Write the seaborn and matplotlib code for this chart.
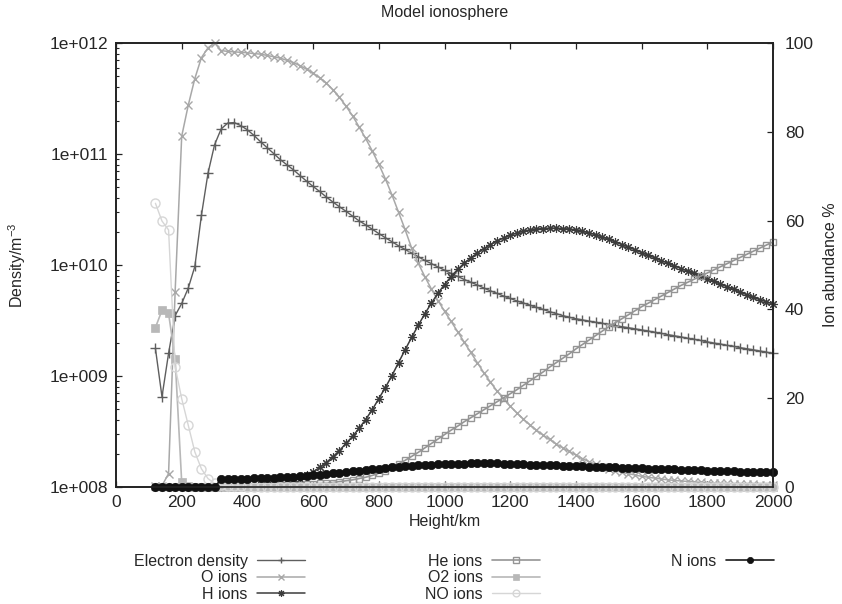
import matplotlib
matplotlib.use("Agg")
import matplotlib.pyplot as plt
import numpy as np
import pandas as pd
import seaborn as sns
from matplotlib.ticker import FixedLocator, FixedFormatter, LogLocator, NullFormatter

# ---------------- data ----------------
heights = [
    120, 140, 160, 180, 200, 220, 240, 260, 280, 300,
    320, 340, 360, 380, 400, 420, 440, 460, 480, 500,
    520, 540, 560, 580, 600, 620, 640, 660, 680, 700,
    720, 740, 760, 780, 800, 820, 840, 860, 880, 900,
    920, 940, 960, 980, 1000, 1020, 1040, 1060, 1080, 1100,
    1120, 1140, 1160, 1180, 1200, 1220, 1240, 1260, 1280, 1300,
    1320, 1340, 1360, 1380, 1400, 1420, 1440, 1460, 1480, 1500,
    1520, 1540, 1560, 1580, 1600, 1620, 1640, 1660, 1680, 1700,
    1720, 1740, 1760, 1780, 1800, 1820, 1840, 1860, 1880, 1900,
    1920, 1940, 1960, 1980, 2000,
]

electron_density = [
    1.77e9, 6.5e8, 1.6e9, 3.5e9, 4.5e9, 6.2e9, 9.7e9, 2.8e10, 6.7e10, 1.21e11,
    1.68e11, 1.90e11, 1.92e11, 1.80e11, 1.65e11, 1.47e11, 1.29e11, 1.14e11, 1.01e11, 8.9e10,
    8.0e10, 7.2e10, 6.4e10, 5.7e10, 5.1e10, 4.6e10, 4.1e10, 3.7e10, 3.35e10, 3.05e10,
    2.76e10, 2.5e10, 2.3e10, 2.1e10, 1.92e10, 1.76e10, 1.62e10, 1.49e10, 1.38e10, 1.28e10,
    1.19e10, 1.1e10, 1.03e10, 9.6e9, 9.0e9, 8.4e9, 7.9e9, 7.4e9, 7.0e9, 6.6e9,
    6.2e9, 5.85e9, 5.55e9, 5.25e9, 5.0e9, 4.75e9, 4.55e9, 4.35e9, 4.15e9, 3.98e9,
    3.8e9, 3.65e9, 3.5e9, 3.38e9, 3.28e9, 3.2e9, 3.12e9, 3.05e9, 2.98e9, 2.92e9,
    2.85e9, 2.78e9, 2.72e9, 2.66e9, 2.6e9, 2.54e9, 2.48e9, 2.42e9, 2.36e9, 2.3e9,
    2.25e9, 2.19e9, 2.14e9, 2.09e9, 2.03e9, 1.98e9, 1.94e9, 1.89e9, 1.85e9, 1.8e9,
    1.76e9, 1.72e9, 1.68e9, 1.64e9, 1.6e9,
]

o_ions = [
    0.2, 0.3, 3.0, 44.0, 79.0, 86.0, 92.0, 96.7, 98.9, 100.0,
    98.3, 98.1, 98.0, 97.9, 97.8, 97.6, 97.5, 97.2, 96.9, 96.6,
    96.1, 95.6, 94.9, 94.1, 93.2, 92.2, 91.0, 89.5, 87.8, 85.8,
    83.6, 81.1, 78.5, 75.7, 72.7, 69.4, 65.8, 61.9, 58.0, 53.8,
    50.4, 47.4, 44.6, 42.0, 39.6, 37.3, 35.0, 32.6, 30.3, 28.0,
    25.7, 23.6, 21.6, 19.9, 18.2, 16.7, 15.3, 14.0, 12.8, 11.7,
    10.7, 9.7, 8.8, 8.0, 7.2, 6.4, 5.7, 5.1, 4.6, 4.1,
    3.7, 3.3, 3.0, 2.7, 2.4, 2.2, 2.0, 1.8, 1.6, 1.5,
    1.35, 1.25, 1.15, 1.05, 0.95, 0.9, 0.85, 0.8, 0.75, 0.7,
    0.65, 0.6, 0.55, 0.5, 0.5,
]

h_ions = [
    0.0, 0.0, 0.0, 0.0, 0.0, 0.0, 0.0, 0.0, 0.0, 0.0,
    0.1, 0.1, 0.1, 0.2, 0.2, 0.3, 0.4, 0.5, 0.6, 0.8,
    1.1, 1.4, 1.9, 2.6, 3.4, 4.4, 5.5, 6.8, 8.2, 9.8,
    11.4, 13.2, 15.2, 17.4, 19.9, 22.4, 25.1, 28.0, 30.9, 33.7,
    36.4, 39.0, 41.4, 43.6, 45.6, 47.4, 49.0, 50.4, 51.6, 52.7,
    53.7, 54.6, 55.4, 56.1, 56.7, 57.2, 57.6, 57.9, 58.1, 58.2,
    58.3, 58.3, 58.2, 58.1, 57.9, 57.6, 57.2, 56.8, 56.3, 55.8,
    55.2, 54.6, 54.0, 53.4, 52.8, 52.2, 51.6, 51.0, 50.4, 49.8,
    49.2, 48.6, 48.1, 47.5, 46.9, 46.3, 45.7, 45.1, 44.5, 43.9,
    43.3, 42.7, 42.2, 41.7, 41.2,
]

he_ions = [
    0.0, 0.0, 0.0, 0.0, 0.0, 0.0, 0.0, 0.0, 0.0, 0.1,
    0.1, 0.1, 0.1, 0.1, 0.2, 0.2, 0.2, 0.3, 0.3, 0.4,
    0.4, 0.5, 0.5, 0.6, 0.7, 0.8, 0.9, 1.0, 1.2, 1.4,
    1.6, 1.9, 2.2, 2.6, 3.1, 3.7, 4.4, 5.2, 6.0, 6.9,
    7.8, 8.8, 9.8, 10.8, 11.8, 12.8, 13.7, 14.7, 15.6, 16.5,
    17.4, 18.3, 19.2, 20.1, 21.0, 21.9, 22.9, 23.9, 24.9, 25.9,
    27.0, 28.0, 29.0, 30.0, 31.1, 32.1, 33.1, 34.1, 35.1, 36.1,
    37.0, 37.9, 38.8, 39.7, 40.6, 41.4, 42.2, 43.0, 43.8, 44.6,
    45.4, 46.1, 46.8, 47.5, 48.2, 48.9, 49.6, 50.3, 51.0, 51.7,
    52.4, 53.1, 53.8, 54.5, 55.2,
]

o2_ions = [
    35.9, 39.8, 39.1, 28.9, 1.1, 0.2, 0.1, 0.1, 0.1, 0.1,
    0.0, 0.0, 0.0, 0.0, 0.0, 0.0, 0.0, 0.0, 0.0, 0.0,
    0.0, 0.0, 0.0, 0.0, 0.0, 0.0, 0.0, 0.0, 0.0, 0.0,
    0.0, 0.0, 0.0, 0.0, 0.0, 0.0, 0.0, 0.0, 0.0, 0.0,
    0.0, 0.0, 0.0, 0.0, 0.0, 0.0, 0.0, 0.0, 0.0, 0.0,
    0.0, 0.0, 0.0, 0.0, 0.0, 0.0, 0.0, 0.0, 0.0, 0.0,
    0.0, 0.0, 0.0, 0.0, 0.0, 0.0, 0.0, 0.0, 0.0, 0.0,
    0.0, 0.0, 0.0, 0.0, 0.0, 0.0, 0.0, 0.0, 0.0, 0.0,
    0.0, 0.0, 0.0, 0.0, 0.0, 0.0, 0.0, 0.0, 0.0, 0.0,
    0.0, 0.0, 0.0, 0.0, 0.0,
]

no_ions = [
    63.9, 59.9, 57.9, 27.1, 19.9, 13.9, 7.9, 4.1, 1.9, 0.8,
    0.4, 0.3, 0.2, 0.2, 0.1, 0.1, 0.1, 0.1, 0.1, 0.1,
    0.0, 0.0, 0.0, 0.0, 0.0, 0.0, 0.0, 0.0, 0.0, 0.0,
    0.0, 0.0, 0.0, 0.0, 0.0, 0.0, 0.0, 0.0, 0.0, 0.0,
    0.0, 0.0, 0.0, 0.0, 0.0, 0.0, 0.0, 0.0, 0.0, 0.0,
    0.0, 0.0, 0.0, 0.0, 0.0, 0.0, 0.0, 0.0, 0.0, 0.0,
    0.0, 0.0, 0.0, 0.0, 0.0, 0.0, 0.0, 0.0, 0.0, 0.0,
    0.0, 0.0, 0.0, 0.0, 0.0, 0.0, 0.0, 0.0, 0.0, 0.0,
    0.0, 0.0, 0.0, 0.0, 0.0, 0.0, 0.0, 0.0, 0.0, 0.0,
    0.0, 0.0, 0.0, 0.0, 0.0,
]

n_ions = [
    0.0, 0.0, 0.0, 0.0, 0.0, 0.0, 0.0, 0.0, 0.0, 0.0,
    1.7, 1.75, 1.8, 1.85, 1.9, 1.95, 2.0, 2.05, 2.1, 2.15,
    2.2, 2.3, 2.4, 2.5, 2.65, 2.8, 2.95, 3.1, 3.25, 3.4,
    3.55, 3.7, 3.85, 4.0, 4.15, 4.3, 4.45, 4.6, 4.7, 4.8,
    4.9, 5.0, 5.05, 5.1, 5.15, 5.2, 5.25, 5.25, 5.3, 5.3,
    5.3, 5.3, 5.3, 5.25, 5.2, 5.15, 5.1, 5.05, 5.0, 4.95,
    4.9, 4.85, 4.8, 4.75, 4.7, 4.65, 4.6, 4.55, 4.5, 4.45,
    4.4, 4.35, 4.3, 4.25, 4.2, 4.15, 4.1, 4.05, 4.0, 3.95,
    3.9, 3.85, 3.8, 3.75, 3.7, 3.65, 3.6, 3.55, 3.5, 3.48,
    3.46, 3.44, 3.42, 3.4, 3.4,
]

series_names = ["Electron density", "O ions", "H ions", "He ions",
                "O2 ions", "NO ions", "N ions"]
legend_columns = [[0, 1, 2], [3, 4, 5], [6]]
title_text = "Model ionosphere"
x_label = "Height/km"
left_label = "Density/m$^{-3}$"
right_label = "Ion abundance %"
x_ticks = [0, 200, 400, 600, 800, 1000, 1200, 1400, 1600, 1800, 2000]
left_ticks = [1e8, 1e9, 1e10, 1e11, 1e12]
left_ticklabels = ["1e+008", "1e+009", "1e+010", "1e+011", "1e+012"]
right_ticks = [0, 20, 40, 60, 80, 100]

# ---------------- style ----------------
sns.set_style("white")
plt.rcParams["font.family"] = ["Liberation Sans", "DejaVu Sans"]
plt.rcParams["mathtext.default"] = "regular"
TICK_FS = 12.5
LAB_FS = 11.5

df = pd.DataFrame({
    "height": heights,
    "electron": electron_density,
    "o": o_ions, "h": h_ions, "he": he_ions,
    "o2": o2_ions, "no": no_ions, "n": n_ions,
})

W, H = 842, 604
fig = plt.figure(figsize=(W / 100, H / 100), dpi=100)
L, R, T, B = 116, 773, 43, 487
ax = fig.add_axes([L / W, 1 - B / H, (R - L) / W, (B - T) / H])
ax2 = ax.twinx()

styles = [
    ("electron", ax, dict(color="#5e5e5e", marker="+", markersize=6.5,
                         markeredgecolor="#5e5e5e", markeredgewidth=1.0, linewidth=1.0)),
    ("o", ax2, dict(color="#a8a8a8", marker="x", markersize=5.5,
                    markeredgecolor="#a8a8a8", markeredgewidth=1.0, linewidth=1.1)),
    ("h", ax2, dict(color="#3c3c3c", marker=(8, 2, 0), markersize=6.5,
                    markeredgecolor="#3c3c3c", markeredgewidth=0.8, linewidth=1.1)),
    ("he", ax2, dict(color="#959595", marker="s", markersize=5,
                     markerfacecolor="none", markeredgecolor="#959595",
                     markeredgewidth=1.0, linewidth=1.2)),
    ("o2", ax2, dict(color="#b8b8b8", marker="s", markersize=5.5,
                     markerfacecolor="#b8b8b8", markeredgecolor="#b8b8b8",
                     markeredgewidth=0.5, linewidth=1.2)),
    ("no", ax2, dict(color="#d6d6d6", marker="o", markersize=6.5,
                     markerfacecolor="none", markeredgecolor="#d6d6d6",
                     markeredgewidth=1.0, linewidth=1.0)),
    ("n", ax2, dict(color="#1a1a1a", marker="o", markersize=6,
                    markerfacecolor="#111111", markeredgecolor="#111111",
                    markeredgewidth=0.5, linewidth=1.2)),
]

handles = []
for (col, axis, kw), name in zip(styles, series_names):
    sns.lineplot(data=df, x="height", y=col, ax=axis, legend=False,
                 label=name, clip_on=False, **kw)
    handles.append(axis.lines[-1])

# axes / scales
ax.set_yscale("log")
ax.set_ylim(1e8, 1e12)
ax.set_xlim(0, 2000)
ax2.set_ylim(0, 100)
ax2.set_xlim(0, 2000)

ax.xaxis.set_major_locator(FixedLocator(x_ticks))
ax.yaxis.set_major_locator(FixedLocator(left_ticks))
ax.yaxis.set_major_formatter(FixedFormatter(left_ticklabels))
ax.yaxis.set_minor_locator(LogLocator(base=10, subs=range(2, 10)))
ax.yaxis.set_minor_formatter(NullFormatter())
ax2.yaxis.set_major_locator(FixedLocator(right_ticks))

for a in (ax, ax2):
    for s in a.spines.values():
        s.set_linewidth(1.2)
        s.set_color("#222222")

ax.tick_params(axis="x", which="major", direction="in", length=4.5, width=0.9,
               top=True, bottom=True, labelsize=TICK_FS, pad=6, color="#222222")
ax.tick_params(axis="y", which="major", direction="in", length=4.5, width=0.9,
               left=True, right=False, labelsize=TICK_FS, pad=5.5, color="#222222")
ax.tick_params(axis="y", which="minor", direction="in", length=2.5, width=0.8,
               left=True, right=False, color="#222222")
ax2.tick_params(axis="y", which="major", direction="in", length=4.5, width=0.9,
                right=True, left=False, labelsize=TICK_FS, pad=8.5, color="#222222")

ax.set_xlabel(x_label, fontsize=LAB_FS)
ax.xaxis.set_label_coords(0.5, -0.077)
ax.xaxis.label.set_va("center")
ax.set_ylabel(left_label, fontsize=LAB_FS)
ax.yaxis.set_label_coords(-0.151, 0.5)
ax.yaxis.label.set_va("center")
ax2.set_ylabel(right_label, fontsize=LAB_FS)
ax2.yaxis.set_label_coords(1.087, 0.5)
ax2.yaxis.label.set_va("center")

fig.text(((L + R) / 2) / W, 1 - 13 / H, title_text, ha="center", va="center",
         fontsize=LAB_FS)

# gnuplot-like key: three columns, text right-aligned before the sample line
col_right_edges = [305, 540, 774]
for idxs, xr in zip(legend_columns, col_right_edges):
    fig.legend([handles[i] for i in idxs], [series_names[i] for i in idxs],
               loc="upper right", bbox_to_anchor=(xr / W, 1 - 554 / H),
               markerfirst=False, frameon=False, fontsize=LAB_FS,
               handlelength=3.0, handletextpad=0.6, labelspacing=0.08,
               borderpad=0, borderaxespad=0, markerscale=0.75)

fig.savefig("out.png", dpi=100)
